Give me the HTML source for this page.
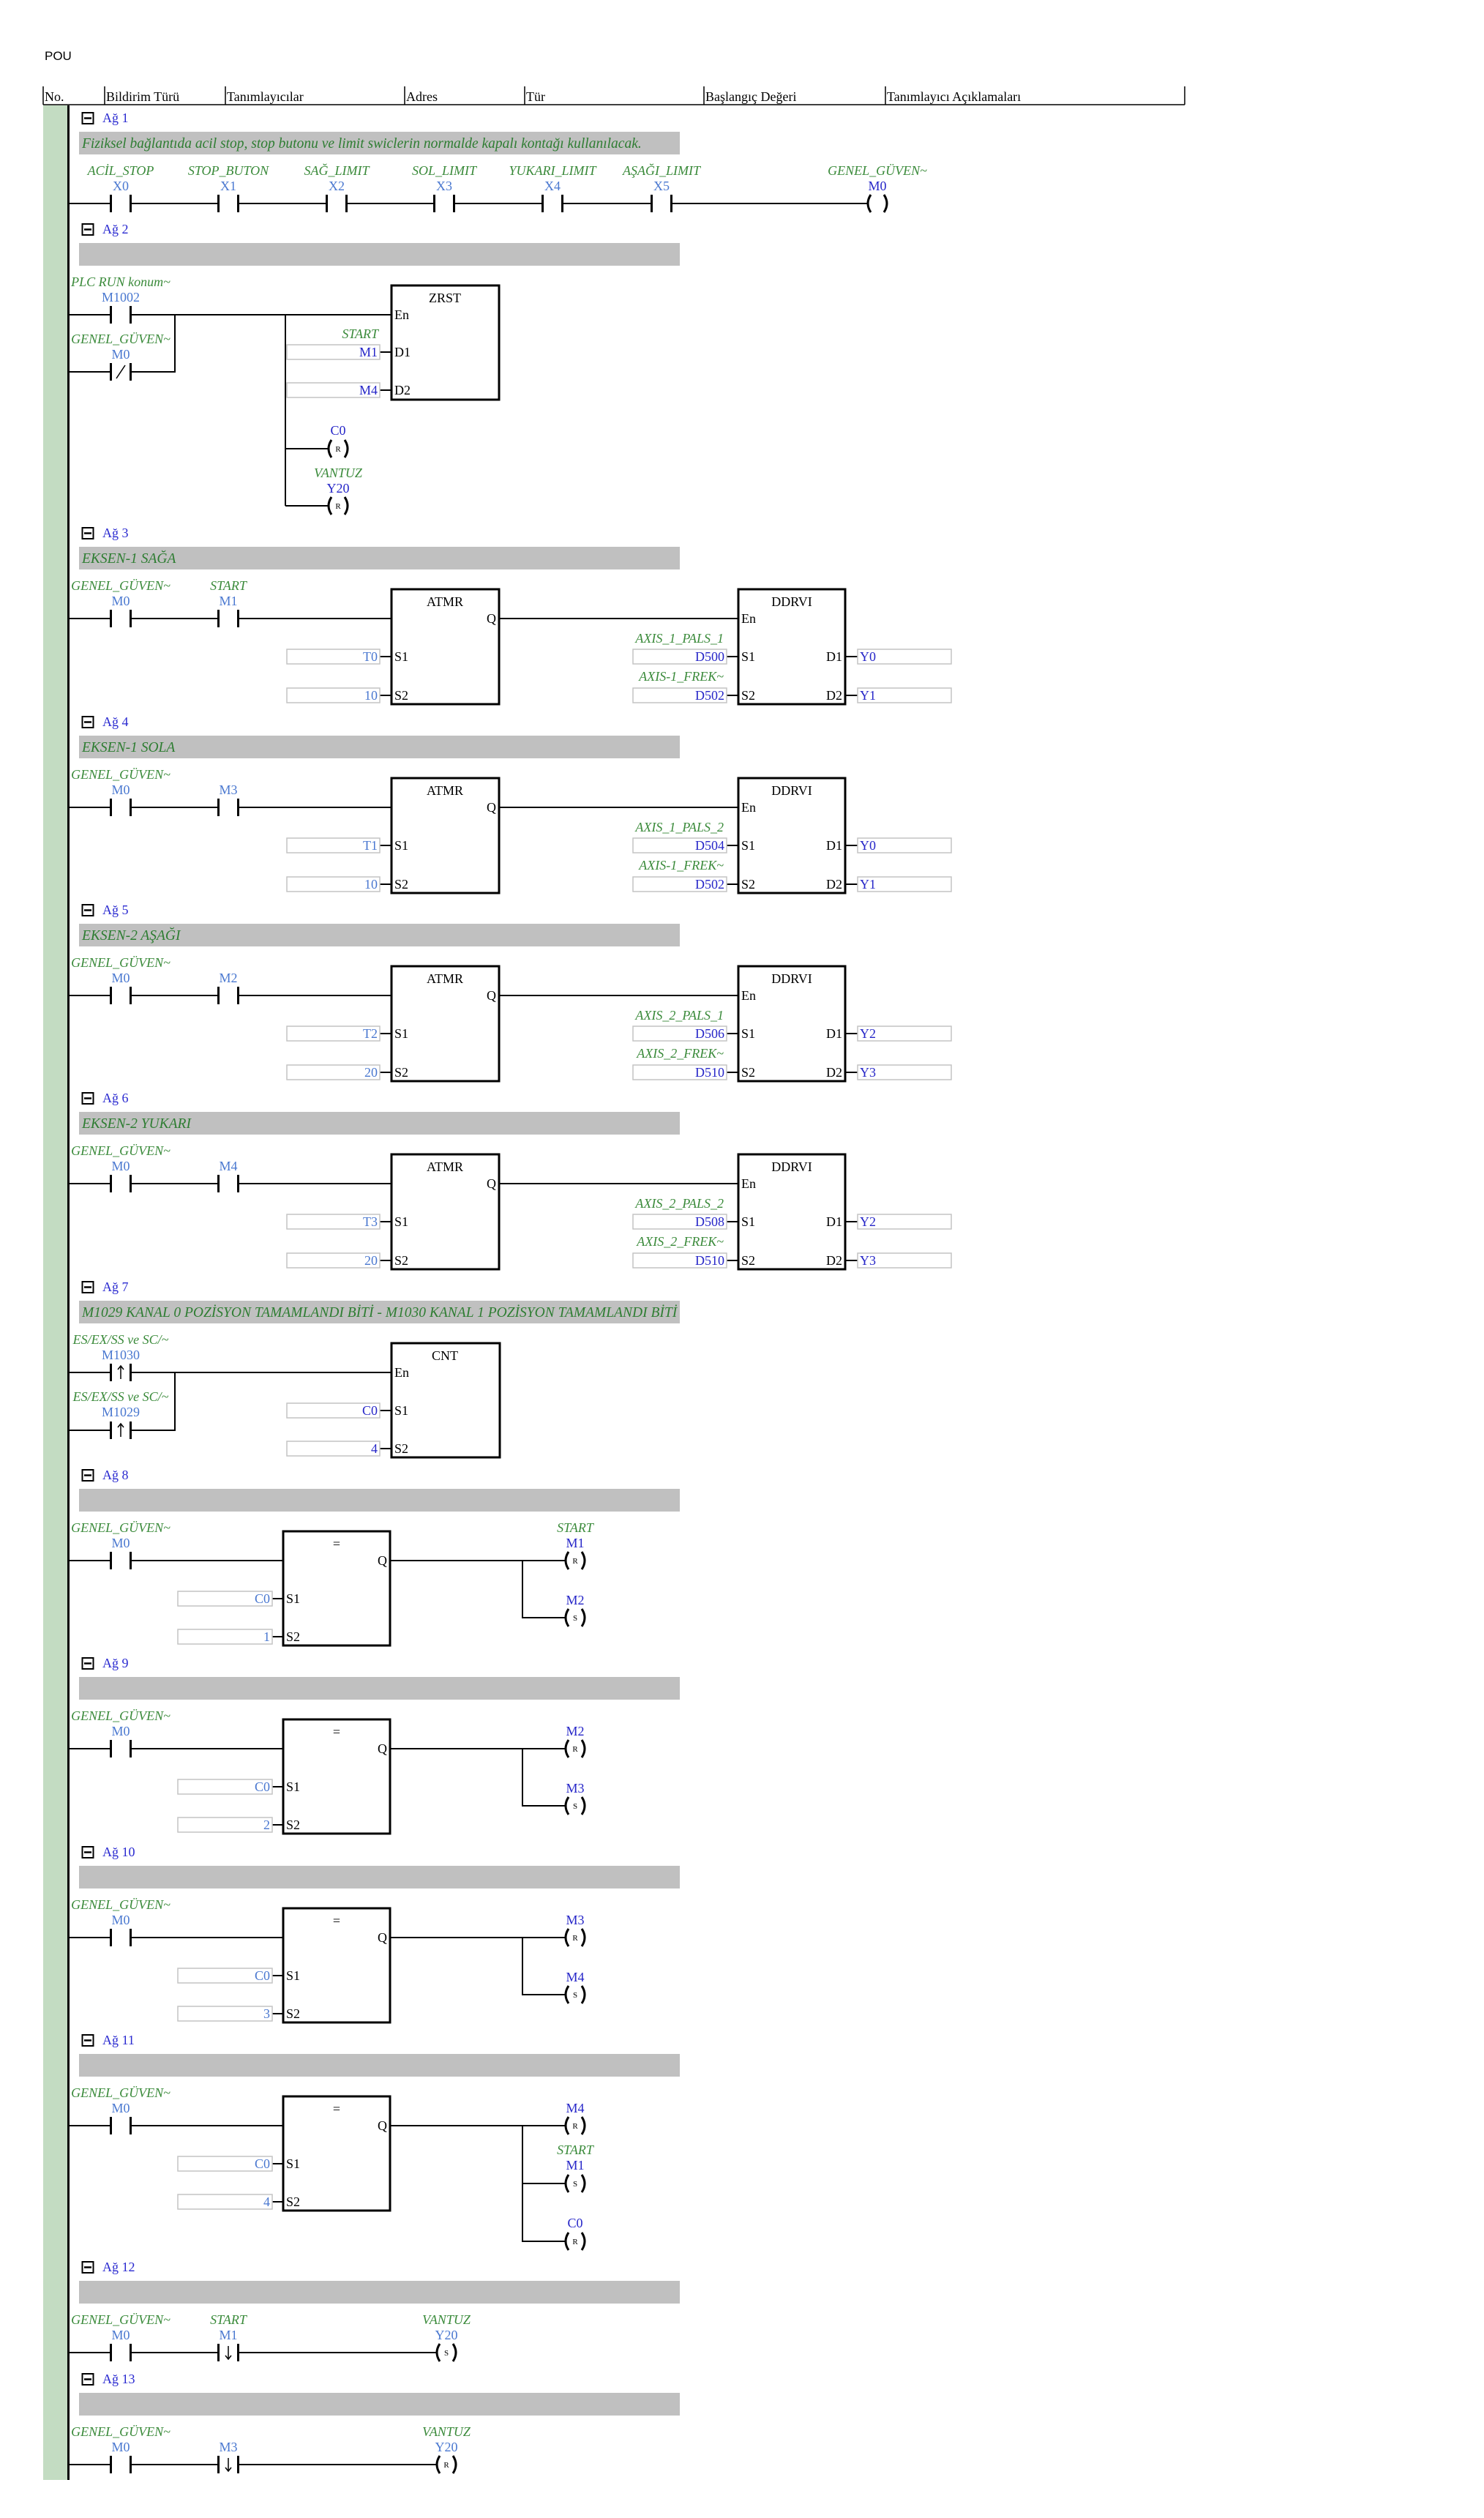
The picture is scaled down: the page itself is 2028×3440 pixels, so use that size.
<!DOCTYPE html>
<html><head><meta charset="utf-8"><style>
html,body{margin:0;padding:0;background:#fff}
svg{display:block}
text{font-family:"Liberation Serif",serif;font-size:18px}
.l{font-style:italic;fill:#3a8a3a;text-anchor:middle}
.le{font-style:italic;fill:#3a8a3a;text-anchor:end}
.a{fill:#4a78d0;text-anchor:middle}
.d{fill:#2626c8;text-anchor:middle}
.de{fill:#2626c8;text-anchor:end}
.ae{fill:#4a78d0;text-anchor:end}
.ds{fill:#2626c8}
.t{fill:#000}
.tm{fill:#000;text-anchor:middle}
.te{fill:#000;text-anchor:end}
.ag{fill:#2a2ad0}
.cm{font-style:italic;font-size:19.5px;fill:#2e7d32}
.h{font-size:18px;fill:#000}
.w{stroke:#000;stroke-width:2;fill:none}
.bx{stroke:#000;stroke-width:3;fill:#fff}
.ib{stroke:#c4c4c4;stroke-width:1.5;fill:#fff}
.ct{font-size:11px;text-anchor:middle;fill:#000}
</style></head><body>
<svg width="2028" height="3440" viewBox="0 0 2028 3440" xmlns="http://www.w3.org/2000/svg">
<defs>
<g id="c"><rect x="-12" y="-3" width="24" height="6" fill="#fff"/><rect x="-15" y="-12" width="3" height="24" fill="#000"/><rect x="12" y="-12" width="3" height="24" fill="#000"/></g>
<g id="cl"><path d="M-9,-12 Q-17,0 -9,12 M9,-12 Q17,0 9,12" stroke="#000" stroke-width="3" fill="none"/></g>
<g id="up"><path d="M0,9 V-9 M-4,-4 L0,-9 L4,-4" stroke="#000" stroke-width="1.5" fill="none"/></g>
<g id="dn"><path d="M0,-9 V9 M-4,4 L0,9 L4,4" stroke="#000" stroke-width="1.5" fill="none"/></g>
<g id="ic"><rect x="112.5" y="-124" width="15" height="15" fill="#fff" stroke="#000" stroke-width="2"/><line x1="115" y1="-116.5" x2="125" y2="-116.5" stroke="#000" stroke-width="2.5"/></g>
<rect id="bar" x="108" y="-98" width="821" height="31" fill="#c0c0c0"/>
<clipPath id="bc"><rect x="108" y="-98" width="821" height="31"/></clipPath>
</defs>

<text x="61" y="82" style="font-family:'Liberation Sans',sans-serif;font-size:17px">POU</text>
<g class="h">
<text x="61" y="138">No.</text><text x="145" y="138">Bildirim Türü</text><text x="310" y="138">Tanımlayıcılar</text><text x="555" y="138">Adres</text><text x="719" y="138">Tür</text><text x="964" y="138">Başlangıç Değeri</text><text x="1212" y="138">Tanımlayıcı Açıklamaları</text>
</g>
<path d="M59,143 H1619 M59,118 V143 M143,118 V143 M308,118 V143 M553,118 V143 M717,118 V143 M962,118 V143 M1210,118 V143 M1619,118 V143" stroke="#000" stroke-width="1.5" fill="none"/>
<rect x="59" y="144" width="33" height="3244" fill="#c3dcc2"/>
<rect x="92" y="144" width="3" height="3244" fill="#000"/>

<!-- Net 1 -->
<g transform="translate(0,278)">
<use href="#ic"/><text class="ag" x="140" y="-111">Ağ 1</text>
<use href="#bar"/><text class="cm" x="112" y="-76">Fiziksel bağlantıda acil stop, stop  butonu ve limit swiclerin  normalde kapalı kontağı kullanılacak.</text>
<line class="w" x1="93" y1="0" x2="1185" y2="0"/>
<use href="#c" x="165"/><use href="#c" x="312"/><use href="#c" x="460"/><use href="#c" x="607"/><use href="#c" x="755"/><use href="#c" x="904"/>
<use href="#cl" x="1199"/>
<text class="l" x="165" y="-39">ACİL_STOP</text><text class="a" x="165" y="-18">X0</text>
<text class="l" x="312" y="-39">STOP_BUTON</text><text class="a" x="312" y="-18">X1</text>
<text class="l" x="460" y="-39">SAĞ_LIMIT</text><text class="a" x="460" y="-18">X2</text>
<text class="l" x="607" y="-39">SOL_LIMIT</text><text class="a" x="607" y="-18">X3</text>
<text class="l" x="755" y="-39">YUKARI_LIMIT</text><text class="a" x="755" y="-18">X4</text>
<text class="l" x="904" y="-39">AŞAĞI_LIMIT</text><text class="a" x="904" y="-18">X5</text>
<text class="l" x="1199" y="-39">GENEL_GÜVEN~</text><text class="d" x="1199" y="-18">M0</text>
</g>

<!-- Net 2 -->
<g transform="translate(0,430)">
<use href="#ic"/><text class="ag" x="140" y="-111">Ağ 2</text>
<use href="#bar"/>
<path class="w" d="M93,0 H535 M93,78 H239 V0 M390,0 V261 M390,183 H448 M390,261 H448 M519,51 H535 M519,103 H535"/>
<use href="#c" x="165"/><use href="#c" x="165" y="78"/>
<line x1="159" y1="87" x2="171" y2="69" stroke="#000" stroke-width="1.5"/>
<text class="l" x="165" y="-39">PLC RUN konum~</text><text class="a" x="165" y="-18">M1002</text>
<text class="l" x="165" y="39">GENEL_GÜVEN~</text><text class="a" x="165" y="60">M0</text>
<rect class="bx" x="535" y="-40" width="147" height="156"/>
<text class="tm" x="608" y="-17">ZRST</text>
<text class="t" x="539" y="6">En</text><text class="t" x="539" y="57">D1</text><text class="t" x="539" y="109">D2</text>
<rect class="ib" x="392" y="41" width="127" height="20"/><rect class="ib" x="392" y="93" width="127" height="20"/>
<text class="de" x="516" y="57">M1</text><text class="de" x="516" y="109">M4</text>
<text class="le" x="517" y="32">START</text>
<use href="#cl" x="462" y="183"/><use href="#cl" x="462" y="261"/>
<text class="ct" x="462" y="187">R</text><text class="ct" x="462" y="265">R</text>
<text class="d" x="462" y="164">C0</text>
<text class="l" x="462" y="222">VANTUZ</text><text class="d" x="462" y="243">Y20</text>
</g>

<!-- Net 3 -->
<g transform="translate(0,845)">
<use href="#ic"/><text class="ag" x="140" y="-111">Ağ 3</text>
<use href="#bar"/><text class="cm" x="112" y="-76">EKSEN-1 SAĞA</text>
<path class="w" d="M93,0 H535 M682,0 H1009 M519,52 H535 M519,105 H535 M993,52 H1009 M993,105 H1009 M1155,52 H1172 M1155,105 H1172"/>
<use href="#c" x="165"/><use href="#c" x="312"/>
<text class="l" x="165" y="-39">GENEL_GÜVEN~</text><text class="a" x="165" y="-18">M0</text>
<text class="l" x="312" y="-39">START</text><text class="a" x="312" y="-18">M1</text>
<rect class="bx" x="535" y="-40" width="147" height="157"/><text class="tm" x="608" y="-17">ATMR</text><text class="te" x="678" y="6">Q</text>
<text class="t" x="539" y="58">S1</text><text class="t" x="539" y="111">S2</text>
<rect class="ib" x="392" y="42" width="127" height="20"/><rect class="ib" x="392" y="95" width="127" height="20"/>
<text class="ae" x="516" y="58">T0</text><text class="ae" x="516" y="111">10</text>
<rect class="bx" x="1009" y="-40" width="146" height="157"/><text class="tm" x="1082" y="-17">DDRVI</text>
<text class="t" x="1013" y="6">En</text><text class="t" x="1013" y="58">S1</text><text class="t" x="1013" y="111">S2</text><text class="te" x="1151" y="58">D1</text><text class="te" x="1151" y="111">D2</text>
<rect class="ib" x="865" y="42" width="128" height="20"/><rect class="ib" x="865" y="95" width="128" height="20"/>
<rect class="ib" x="1172" y="42" width="128" height="20"/><rect class="ib" x="1172" y="95" width="128" height="20"/>
<text class="le" x="989" y="33">AXIS_1_PALS_1</text><text class="le" x="989" y="85">AXIS-1_FREK~</text>
<text class="de" x="990" y="58">D500</text><text class="de" x="990" y="111">D502</text>
<text class="ds" x="1175" y="58">Y0</text><text class="ds" x="1175" y="111">Y1</text>
</g>

<!-- Net 4 -->
<g transform="translate(0,1103)">
<use href="#ic"/><text class="ag" x="140" y="-111">Ağ 4</text>
<use href="#bar"/><text class="cm" x="112" y="-76">EKSEN-1 SOLA</text>
<path class="w" d="M93,0 H535 M682,0 H1009 M519,52 H535 M519,105 H535 M993,52 H1009 M993,105 H1009 M1155,52 H1172 M1155,105 H1172"/>
<use href="#c" x="165"/><use href="#c" x="312"/>
<text class="l" x="165" y="-39">GENEL_GÜVEN~</text><text class="a" x="165" y="-18">M0</text>
<text class="a" x="312" y="-18">M3</text>
<rect class="bx" x="535" y="-40" width="147" height="157"/><text class="tm" x="608" y="-17">ATMR</text><text class="te" x="678" y="6">Q</text>
<text class="t" x="539" y="58">S1</text><text class="t" x="539" y="111">S2</text>
<rect class="ib" x="392" y="42" width="127" height="20"/><rect class="ib" x="392" y="95" width="127" height="20"/>
<text class="ae" x="516" y="58">T1</text><text class="ae" x="516" y="111">10</text>
<rect class="bx" x="1009" y="-40" width="146" height="157"/><text class="tm" x="1082" y="-17">DDRVI</text>
<text class="t" x="1013" y="6">En</text><text class="t" x="1013" y="58">S1</text><text class="t" x="1013" y="111">S2</text><text class="te" x="1151" y="58">D1</text><text class="te" x="1151" y="111">D2</text>
<rect class="ib" x="865" y="42" width="128" height="20"/><rect class="ib" x="865" y="95" width="128" height="20"/>
<rect class="ib" x="1172" y="42" width="128" height="20"/><rect class="ib" x="1172" y="95" width="128" height="20"/>
<text class="le" x="989" y="33">AXIS_1_PALS_2</text><text class="le" x="989" y="85">AXIS-1_FREK~</text>
<text class="de" x="990" y="58">D504</text><text class="de" x="990" y="111">D502</text>
<text class="ds" x="1175" y="58">Y0</text><text class="ds" x="1175" y="111">Y1</text>
</g>

<!-- Net 5 -->
<g transform="translate(0,1360)">
<use href="#ic"/><text class="ag" x="140" y="-111">Ağ 5</text>
<use href="#bar"/><text class="cm" x="112" y="-76">EKSEN-2  AŞAĞI</text>
<path class="w" d="M93,0 H535 M682,0 H1009 M519,52 H535 M519,105 H535 M993,52 H1009 M993,105 H1009 M1155,52 H1172 M1155,105 H1172"/>
<use href="#c" x="165"/><use href="#c" x="312"/>
<text class="l" x="165" y="-39">GENEL_GÜVEN~</text><text class="a" x="165" y="-18">M0</text>
<text class="a" x="312" y="-18">M2</text>
<rect class="bx" x="535" y="-40" width="147" height="157"/><text class="tm" x="608" y="-17">ATMR</text><text class="te" x="678" y="6">Q</text>
<text class="t" x="539" y="58">S1</text><text class="t" x="539" y="111">S2</text>
<rect class="ib" x="392" y="42" width="127" height="20"/><rect class="ib" x="392" y="95" width="127" height="20"/>
<text class="ae" x="516" y="58">T2</text><text class="ae" x="516" y="111">20</text>
<rect class="bx" x="1009" y="-40" width="146" height="157"/><text class="tm" x="1082" y="-17">DDRVI</text>
<text class="t" x="1013" y="6">En</text><text class="t" x="1013" y="58">S1</text><text class="t" x="1013" y="111">S2</text><text class="te" x="1151" y="58">D1</text><text class="te" x="1151" y="111">D2</text>
<rect class="ib" x="865" y="42" width="128" height="20"/><rect class="ib" x="865" y="95" width="128" height="20"/>
<rect class="ib" x="1172" y="42" width="128" height="20"/><rect class="ib" x="1172" y="95" width="128" height="20"/>
<text class="le" x="989" y="33">AXIS_2_PALS_1</text><text class="le" x="989" y="85">AXIS_2_FREK~</text>
<text class="de" x="990" y="58">D506</text><text class="de" x="990" y="111">D510</text>
<text class="ds" x="1175" y="58">Y2</text><text class="ds" x="1175" y="111">Y3</text>
</g>

<!-- Net 6 -->
<g transform="translate(0,1617)">
<use href="#ic"/><text class="ag" x="140" y="-111">Ağ 6</text>
<use href="#bar"/><text class="cm" x="112" y="-76">EKSEN-2 YUKARI</text>
<path class="w" d="M93,0 H535 M682,0 H1009 M519,52 H535 M519,105 H535 M993,52 H1009 M993,105 H1009 M1155,52 H1172 M1155,105 H1172"/>
<use href="#c" x="165"/><use href="#c" x="312"/>
<text class="l" x="165" y="-39">GENEL_GÜVEN~</text><text class="a" x="165" y="-18">M0</text>
<text class="a" x="312" y="-18">M4</text>
<rect class="bx" x="535" y="-40" width="147" height="157"/><text class="tm" x="608" y="-17">ATMR</text><text class="te" x="678" y="6">Q</text>
<text class="t" x="539" y="58">S1</text><text class="t" x="539" y="111">S2</text>
<rect class="ib" x="392" y="42" width="127" height="20"/><rect class="ib" x="392" y="95" width="127" height="20"/>
<text class="ae" x="516" y="58">T3</text><text class="ae" x="516" y="111">20</text>
<rect class="bx" x="1009" y="-40" width="146" height="157"/><text class="tm" x="1082" y="-17">DDRVI</text>
<text class="t" x="1013" y="6">En</text><text class="t" x="1013" y="58">S1</text><text class="t" x="1013" y="111">S2</text><text class="te" x="1151" y="58">D1</text><text class="te" x="1151" y="111">D2</text>
<rect class="ib" x="865" y="42" width="128" height="20"/><rect class="ib" x="865" y="95" width="128" height="20"/>
<rect class="ib" x="1172" y="42" width="128" height="20"/><rect class="ib" x="1172" y="95" width="128" height="20"/>
<text class="le" x="989" y="33">AXIS_2_PALS_2</text><text class="le" x="989" y="85">AXIS_2_FREK~</text>
<text class="de" x="990" y="58">D508</text><text class="de" x="990" y="111">D510</text>
<text class="ds" x="1175" y="58">Y2</text><text class="ds" x="1175" y="111">Y3</text>
</g>

<!-- Net 7 -->
<g transform="translate(0,1875)">
<use href="#ic"/><text class="ag" x="140" y="-111">Ağ 7</text>
<use href="#bar"/>
<g clip-path="url(#bc)"><text class="cm" x="112" y="-76">M1029 KANAL 0 POZİSYON TAMAMLANDI BİTİ - M1030 KANAL 1 POZİSYON TAMAMLANDI BİTİ</text></g>
<path class="w" d="M93,0 H535 M93,79 H239 V0 M519,52 H535 M519,104 H535"/>
<use href="#c" x="165"/><use href="#up" x="165"/><use href="#c" x="165" y="79"/><use href="#up" x="165" y="79"/>
<text class="l" x="165" y="-39">ES/EX/SS ve SC/~</text><text class="a" x="165" y="-18">M1030</text>
<text class="l" x="165" y="39">ES/EX/SS ve SC/~</text><text class="a" x="165" y="60">M1029</text>
<rect class="bx" x="535" y="-40" width="148" height="156"/><text class="tm" x="608" y="-17">CNT</text>
<text class="t" x="539" y="6">En</text><text class="t" x="539" y="58">S1</text><text class="t" x="539" y="110">S2</text>
<rect class="ib" x="392" y="42" width="127" height="20"/><rect class="ib" x="392" y="94" width="127" height="20"/>
<text class="de" x="516" y="58">C0</text><text class="de" x="516" y="110">4</text>
</g>

<!-- Net 8 -->
<g transform="translate(0,2132)">
<use href="#ic"/><text class="ag" x="140" y="-111">Ağ 8</text>
<use href="#bar"/>
<path class="w" d="M93,0 H387 M533,0 H772 M714,0 V78 H772 M372,52 H387 M372,104 H387"/>
<use href="#c" x="165"/>
<text class="l" x="165" y="-39">GENEL_GÜVEN~</text><text class="a" x="165" y="-18">M0</text>
<rect class="bx" x="387" y="-40" width="146" height="156"/><text class="tm" x="460" y="-17">=</text><text class="te" x="529" y="6">Q</text>
<text class="t" x="391" y="58">S1</text><text class="t" x="391" y="110">S2</text>
<rect class="ib" x="243" y="42" width="129" height="20"/><rect class="ib" x="243" y="94" width="129" height="20"/>
<text class="ae" x="369" y="58">C0</text><text class="ae" x="369" y="110">1</text>
<use href="#cl" x="786"/><use href="#cl" x="786" y="78"/><text class="ct" x="786" y="4">R</text><text class="ct" x="786" y="82">S</text>
<text class="l" x="786" y="-39">START</text><text class="d" x="786" y="-18">M1</text><text class="d" x="786" y="60">M2</text>
</g>

<!-- Net 9 -->
<g transform="translate(0,2389)">
<use href="#ic"/><text class="ag" x="140" y="-111">Ağ 9</text>
<use href="#bar"/>
<path class="w" d="M93,0 H387 M533,0 H772 M714,0 V78 H772 M372,52 H387 M372,104 H387"/>
<use href="#c" x="165"/>
<text class="l" x="165" y="-39">GENEL_GÜVEN~</text><text class="a" x="165" y="-18">M0</text>
<rect class="bx" x="387" y="-40" width="146" height="156"/><text class="tm" x="460" y="-17">=</text><text class="te" x="529" y="6">Q</text>
<text class="t" x="391" y="58">S1</text><text class="t" x="391" y="110">S2</text>
<rect class="ib" x="243" y="42" width="129" height="20"/><rect class="ib" x="243" y="94" width="129" height="20"/>
<text class="ae" x="369" y="58">C0</text><text class="ae" x="369" y="110">2</text>
<use href="#cl" x="786"/><use href="#cl" x="786" y="78"/><text class="ct" x="786" y="4">R</text><text class="ct" x="786" y="82">S</text>
<text class="d" x="786" y="-18">M2</text><text class="d" x="786" y="60">M3</text>
</g>

<!-- Net 10 -->
<g transform="translate(0,2647)">
<use href="#ic"/><text class="ag" x="140" y="-111">Ağ 10</text>
<use href="#bar"/>
<path class="w" d="M93,0 H387 M533,0 H772 M714,0 V78 H772 M372,52 H387 M372,104 H387"/>
<use href="#c" x="165"/>
<text class="l" x="165" y="-39">GENEL_GÜVEN~</text><text class="a" x="165" y="-18">M0</text>
<rect class="bx" x="387" y="-40" width="146" height="156"/><text class="tm" x="460" y="-17">=</text><text class="te" x="529" y="6">Q</text>
<text class="t" x="391" y="58">S1</text><text class="t" x="391" y="110">S2</text>
<rect class="ib" x="243" y="42" width="129" height="20"/><rect class="ib" x="243" y="94" width="129" height="20"/>
<text class="ae" x="369" y="58">C0</text><text class="ae" x="369" y="110">3</text>
<use href="#cl" x="786"/><use href="#cl" x="786" y="78"/><text class="ct" x="786" y="4">R</text><text class="ct" x="786" y="82">S</text>
<text class="d" x="786" y="-18">M3</text><text class="d" x="786" y="60">M4</text>
</g>

<!-- Net 11 -->
<g transform="translate(0,2904)">
<use href="#ic"/><text class="ag" x="140" y="-111">Ağ 11</text>
<use href="#bar"/>
<path class="w" d="M93,0 H387 M533,0 H772 M714,0 V158 H772 M714,79 H772 M372,52 H387 M372,104 H387"/>
<use href="#c" x="165"/>
<text class="l" x="165" y="-39">GENEL_GÜVEN~</text><text class="a" x="165" y="-18">M0</text>
<rect class="bx" x="387" y="-40" width="146" height="156"/><text class="tm" x="460" y="-17">=</text><text class="te" x="529" y="6">Q</text>
<text class="t" x="391" y="58">S1</text><text class="t" x="391" y="110">S2</text>
<rect class="ib" x="243" y="42" width="129" height="20"/><rect class="ib" x="243" y="94" width="129" height="20"/>
<text class="ae" x="369" y="58">C0</text><text class="ae" x="369" y="110">4</text>
<use href="#cl" x="786"/><use href="#cl" x="786" y="79"/><use href="#cl" x="786" y="158"/>
<text class="ct" x="786" y="4">R</text><text class="ct" x="786" y="83">S</text><text class="ct" x="786" y="162">R</text>
<text class="d" x="786" y="-18">M4</text>
<text class="l" x="786" y="39">START</text><text class="d" x="786" y="60">M1</text>
<text class="d" x="786" y="139">C0</text>
</g>

<!-- Net 12 -->
<g transform="translate(0,3214)">
<use href="#ic"/><text class="ag" x="140" y="-111">Ağ 12</text>
<use href="#bar"/>
<line class="w" x1="93" y1="0" x2="596" y2="0"/>
<use href="#c" x="165"/><use href="#c" x="312"/><use href="#dn" x="312"/>
<text class="l" x="165" y="-39">GENEL_GÜVEN~</text><text class="a" x="165" y="-18">M0</text>
<text class="l" x="312" y="-39">START</text><text class="a" x="312" y="-18">M1</text>
<use href="#cl" x="610"/><text class="ct" x="610" y="4">S</text>
<text class="l" x="610" y="-39">VANTUZ</text><text class="a" x="610" y="-18">Y20</text>
</g>

<!-- Net 13 -->
<g transform="translate(0,3367)">
<use href="#ic"/><text class="ag" x="140" y="-111">Ağ 13</text>
<use href="#bar"/>
<line class="w" x1="93" y1="0" x2="596" y2="0"/>
<use href="#c" x="165"/><use href="#c" x="312"/><use href="#dn" x="312"/>
<text class="l" x="165" y="-39">GENEL_GÜVEN~</text><text class="a" x="165" y="-18">M0</text>
<text class="a" x="312" y="-18">M3</text>
<use href="#cl" x="610"/><text class="ct" x="610" y="4">R</text>
<text class="l" x="610" y="-39">VANTUZ</text><text class="a" x="610" y="-18">Y20</text>
</g>
</svg>
</body></html>
